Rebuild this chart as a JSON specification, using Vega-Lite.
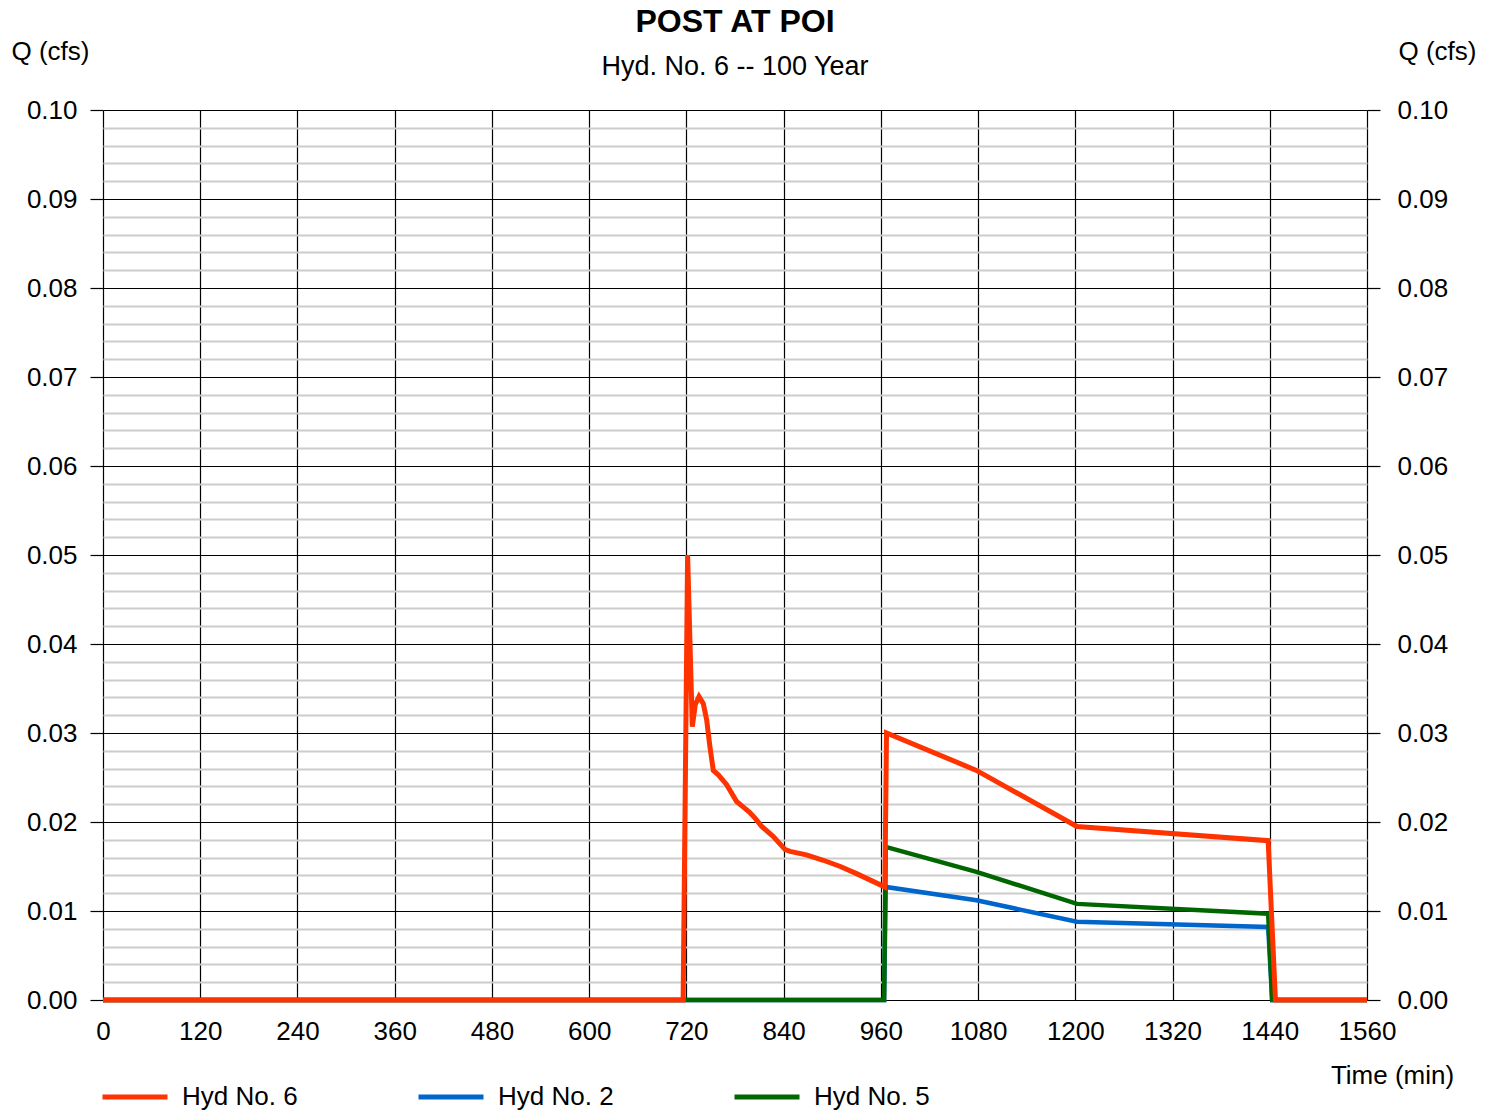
{
  "$schema": "https://vega.github.io/schema/vega-lite/v6.json",
  "width": 1264,
  "height": 890,
  "autosize": {"type": "none"},
  "padding": {"left": 103, "top": 110, "right": 127, "bottom": 112},
  "background": "white",
  "title": {
    "text": "POST AT POI",
    "subtitle": "Hyd. No. 6 -- 100 Year",
    "anchor": "middle",
    "frame": "group",
    "font": "Liberation Sans",
    "fontSize": 32,
    "fontWeight": "bold",
    "color": "black",
    "subtitleFont": "Liberation Sans",
    "subtitleFontSize": 27,
    "subtitleColor": "black",
    "subtitlePadding": 15,
    "offset": -43
  },
  "data": {
    "values": [
      {"series": "Hyd No. 6", "t": 0, "q": 0},
      {"series": "Hyd No. 6", "t": 716, "q": 0},
      {"series": "Hyd No. 6", "t": 721.5, "q": 0.05},
      {"series": "Hyd No. 6", "t": 727.3, "q": 0.0307},
      {"series": "Hyd No. 6", "t": 731, "q": 0.0332},
      {"series": "Hyd No. 6", "t": 735.6, "q": 0.0341},
      {"series": "Hyd No. 6", "t": 740.9, "q": 0.0333},
      {"series": "Hyd No. 6", "t": 745, "q": 0.0315},
      {"series": "Hyd No. 6", "t": 749, "q": 0.0285},
      {"series": "Hyd No. 6", "t": 753.2, "q": 0.0258},
      {"series": "Hyd No. 6", "t": 759.4, "q": 0.0253},
      {"series": "Hyd No. 6", "t": 769.7, "q": 0.0242},
      {"series": "Hyd No. 6", "t": 782, "q": 0.0223},
      {"series": "Hyd No. 6", "t": 790, "q": 0.0217},
      {"series": "Hyd No. 6", "t": 798, "q": 0.0211},
      {"series": "Hyd No. 6", "t": 805, "q": 0.0204},
      {"series": "Hyd No. 6", "t": 813, "q": 0.0195},
      {"series": "Hyd No. 6", "t": 827, "q": 0.0184},
      {"series": "Hyd No. 6", "t": 842, "q": 0.0169},
      {"series": "Hyd No. 6", "t": 848, "q": 0.0167},
      {"series": "Hyd No. 6", "t": 868, "q": 0.0163},
      {"series": "Hyd No. 6", "t": 889, "q": 0.0157},
      {"series": "Hyd No. 6", "t": 910, "q": 0.015},
      {"series": "Hyd No. 6", "t": 930, "q": 0.0142},
      {"series": "Hyd No. 6", "t": 951, "q": 0.0133},
      {"series": "Hyd No. 6", "t": 965, "q": 0.0127},
      {"series": "Hyd No. 6", "t": 967, "q": 0.03},
      {"series": "Hyd No. 6", "t": 1078, "q": 0.0258},
      {"series": "Hyd No. 6", "t": 1202, "q": 0.0195},
      {"series": "Hyd No. 6", "t": 1438, "q": 0.0179},
      {"series": "Hyd No. 6", "t": 1447, "q": 0},
      {"series": "Hyd No. 6", "t": 1560, "q": 0},
      {"series": "Hyd No. 2", "t": 0, "q": 0},
      {"series": "Hyd No. 2", "t": 964, "q": 0},
      {"series": "Hyd No. 2", "t": 966, "q": 0.0127},
      {"series": "Hyd No. 2", "t": 1078, "q": 0.0112},
      {"series": "Hyd No. 2", "t": 1202, "q": 0.0088},
      {"series": "Hyd No. 2", "t": 1438, "q": 0.0082},
      {"series": "Hyd No. 2", "t": 1443, "q": 0},
      {"series": "Hyd No. 2", "t": 1560, "q": 0},
      {"series": "Hyd No. 5", "t": 0, "q": 0},
      {"series": "Hyd No. 5", "t": 964, "q": 0},
      {"series": "Hyd No. 5", "t": 966, "q": 0.0172},
      {"series": "Hyd No. 5", "t": 1078, "q": 0.0144},
      {"series": "Hyd No. 5", "t": 1202, "q": 0.0108},
      {"series": "Hyd No. 5", "t": 1438, "q": 0.0097},
      {"series": "Hyd No. 5", "t": 1443, "q": 0},
      {"series": "Hyd No. 5", "t": 1560, "q": 0}
    ]
  },
  "layer": [
    {
      "encoding": {
        "x": {
          "field": "t",
          "type": "quantitative",
          "scale": {"domain": [0, 1560], "nice": false, "zero": false},
          "axis": {
            "values": [0, 120, 240, 360, 480, 600, 720, 840, 960, 1080, 1200, 1320, 1440, 1560],
            "grid": true,
            "gridColor": "#000000",
            "gridWidth": 1.2,
            "domain": false,
            "ticks": false,
            "tickSize": 0,
            "labelPadding": 39,
            "labelBaseline": "alphabetic",
            "labelFlush": false,
            "labelOverlap": false,
            "labelFontSize": 26,
            "format": "d",
            "title": "Time (min)",
            "titleFontSize": 26,
            "titleFontWeight": "normal",
            "titleX": 1289,
            "titleY": 83,
            "titleAlign": "center",
            "titleBaseline": "alphabetic"
          }
        },
        "y": {
          "field": "q",
          "type": "quantitative",
          "scale": {"domain": [0, 0.1], "nice": false},
          "axis": {
            "orient": "left",
            "values": [0, 0.002, 0.004, 0.006, 0.008, 0.01, 0.012, 0.014, 0.016, 0.018, 0.02, 0.022, 0.024, 0.026, 0.028, 0.03, 0.032, 0.034, 0.036, 0.038, 0.04, 0.042, 0.044, 0.046, 0.048, 0.05, 0.052, 0.054, 0.056, 0.058, 0.06, 0.062, 0.064, 0.066, 0.068, 0.07, 0.072, 0.074, 0.076, 0.078, 0.08, 0.082, 0.084, 0.086, 0.088, 0.09, 0.092, 0.094, 0.096, 0.098, 0.1],
            "grid": true,
            "gridColor": {"condition": {"test": "abs(datum.value*100 - round(datum.value*100)) < 0.001", "value": "#000000"}, "value": "#cccccc"},
            "gridWidth": {"condition": {"test": "abs(datum.value*100 - round(datum.value*100)) < 0.001", "value": 1.2}, "value": 2},
            "tickColor": "#000000",
            "tickWidth": 1.2,
            "tickOpacity": {"condition": {"test": "abs(datum.value*100 - round(datum.value*100)) < 0.001", "value": 1}, "value": 0},
            "tickSize": 13,
            "domain": false,
            "labelExpr": "abs(datum.value*100 - round(datum.value*100)) < 0.001 ? format(datum.value, '.2f') : ''",
            "labelPadding": 13,
            "labelOverlap": false,
            "labelFlush": false,
            "labelFontSize": 26,
            "title": "Q (cfs)",
            "titleAngle": 0,
            "titleFontSize": 26,
            "titleFontWeight": "normal",
            "titleX": -53,
            "titleY": -51,
            "titleAlign": "center",
            "titleBaseline": "alphabetic"
          }
        },
        "color": {
          "field": "series",
          "type": "nominal",
          "scale": {"domain": ["Hyd No. 6", "Hyd No. 2", "Hyd No. 5"], "range": ["#FF3300", "#0066CC", "#006600"]},
          "legend": {
            "orient": "none",
            "legendX": -3,
            "legendY": 952,
            "direction": "horizontal",
            "title": null,
            "padding": 0,
            "symbolType": "stroke",
            "symbolSize": 4225,
            "symbolStrokeWidth": 5,
            "labelFontSize": 26,
            "labelOffset": 12,
            "columnPadding": 110,
            "labelLimit": 300
          }
        }
      },
      "layer": [
        {"transform": [{"filter": "datum.series === 'Hyd No. 2'"}], "mark": {"type": "line", "strokeWidth": 4.5}},
        {"transform": [{"filter": "datum.series === 'Hyd No. 5'"}], "mark": {"type": "line", "strokeWidth": 4.5}},
        {"transform": [{"filter": "datum.series === 'Hyd No. 6'"}], "mark": {"type": "line", "strokeWidth": 5}}
      ]
    },
    {
      "data": {"values": [{"q": 0}]},
      "mark": {"type": "rule", "opacity": 0},
      "encoding": {
        "y": {
          "field": "q",
          "type": "quantitative",
          "scale": {"domain": [0, 0.1], "nice": false},
          "axis": {
            "orient": "right",
            "values": [0, 0.01, 0.02, 0.03, 0.04, 0.05, 0.06, 0.07, 0.08, 0.09, 0.1],
            "format": ".2f",
            "grid": false,
            "domain": false,
            "tickColor": "#000000",
            "tickWidth": 1.2,
            "tickSize": 13,
            "labelPadding": 17,
            "labelOverlap": false,
            "labelFlush": false,
            "labelFontSize": 26,
            "title": "Q (cfs)",
            "titleAngle": 0,
            "titleFontSize": 26,
            "titleFontWeight": "normal",
            "titleX": 70,
            "titleY": -51,
            "titleAlign": "center",
            "titleBaseline": "alphabetic"
          }
        }
      }
    }
  ],
  "resolve": {"scale": {"y": "independent"}},
  "config": {
    "font": "Liberation Sans",
    "view": {"stroke": null},
    "axis": {"labelFont": "Liberation Sans", "titleFont": "Liberation Sans", "labelColor": "#000000", "titleColor": "#000000"},
    "legend": {"labelFont": "Liberation Sans", "labelColor": "#000000"}
  }
}
